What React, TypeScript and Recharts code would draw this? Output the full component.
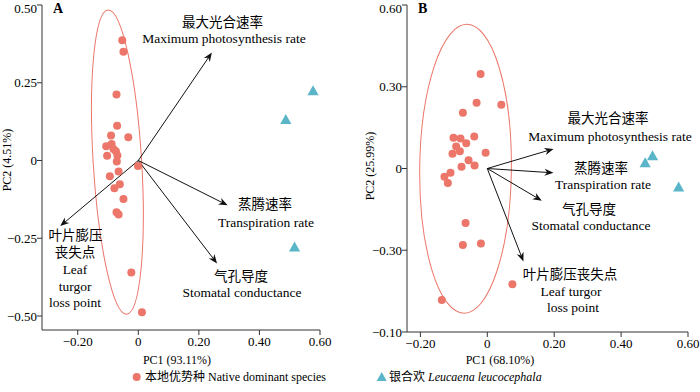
import { ScatterChart, Scatter, XAxis, YAxis, ReferenceLine, ReferenceArea } from 'recharts';

// PCA scores, panel A
const nativeA = [
  [-0.053, 0.387], [-0.049, 0.35], [-0.072, 0.212], [-0.07, 0.112], [-0.033, 0.075],
  [-0.09, 0.08], [-0.106, 0.046], [-0.088, 0.053], [-0.082, 0.037], [-0.074, 0.03],
  [-0.069, 0.016], [-0.103, 0.015], [-0.071, -0.003], [-0.001, -0.018], [-0.065, -0.035],
  [-0.094, -0.051], [-0.061, -0.076], [-0.079, -0.089], [-0.049, -0.124], [-0.072, -0.166],
  [-0.065, -0.174], [-0.023, -0.36], [0.012, -0.488],
];
const leucaenaA = [[0.487, 0.132], [0.577, 0.224], [0.516, -0.278]];
// loading arrow tips: max photosynthesis, transpiration, stomatal conductance, leaf turgor loss point
const loadingsA = [[0.243, 0.347], [0.295, -0.144], [0.26, -0.331], [-0.258, -0.211]];

// PCA scores, panel B
const nativeB = [
  [-0.02, 0.347], [-0.032, 0.241], [0.042, 0.234], [-0.073, 0.205], [-0.101, 0.113],
  [-0.08, 0.11], [-0.039, 0.117], [-0.063, 0.093], [-0.093, 0.081], [-0.082, 0.063],
  [-0.104, 0.054], [-0.005, 0.058], [-0.056, 0.03], [-0.077, 0.006], [-0.038, 0.011],
  [-0.128, -0.03], [-0.11, -0.016], [-0.118, -0.053], [-0.065, -0.2], [-0.073, -0.281],
  [-0.019, -0.275], [0.075, -0.425], [-0.136, -0.483],
];
const leucaenaB = [[0.472, 0.021], [0.494, 0.047], [0.572, -0.068]];
const loadingsB = [[0.198, 0.072], [0.198, -0.016], [0.163, -0.118], [0.108, -0.341]];

const xTicks = [-0.2, 0, 0.2, 0.4, 0.6];
const yTicksA = [-0.5, -0.25, 0, 0.25, 0.5];
const yTicksB = [-0.6, -0.3, 0, 0.3, 0.6];
const yLabelsB = ['\u22120.10', '\u22120.30', '0', '0.30', '0.60'];

const RED = '#EC7669';
const TEAL = '#5BB5C8';
const FONT = "'Liberation Serif', 'Noto Sans CJK SC', serif";

const toPts = (arr: number[][]) => arr.map(([x, y]) => ({ x, y }));

const fmt = (v: number) => (v === 0 ? '0' : (v < 0 ? '\u2212' : '') + Math.abs(v).toFixed(2));

const Dot = (p: any) => <circle cx={p.cx} cy={p.cy} r={4} fill={RED} />;
const Tri = (p: any) => (
  <polygon
    points={`${p.cx},${p.cy - 5.5} ${p.cx - 5.6},${p.cy + 4.5} ${p.cx + 5.6},${p.cy + 4.5}`}
    fill={TEAL}
  />
);

const Arrow = (p: any) => {
  const { x1, y1, x2, y2 } = p;
  const a = Math.atan2(y2 - y1, x2 - x1);
  const c = Math.cos(a), s = Math.sin(a);
  const L = 9, W = 3.6;
  const bx = x2 - L * c, by = y2 - L * s;
  const nx = x2 - 0.7 * L * c, ny = y2 - 0.7 * L * s;
  return (
    <g>
      <line x1={x1} y1={y1} x2={nx} y2={ny} stroke="#111" strokeWidth={1} />
      <polygon
        points={`${x2},${y2} ${bx - W * s},${by + W * c} ${nx},${ny} ${bx + W * s},${by - W * c}`}
        fill="#111"
      />
    </g>
  );
};

const ellipseShape = (rot: number) => (p: any) => {
  const w = Math.abs(p.width), h = Math.abs(p.height);
  const cx = Math.min(p.x, p.x + p.width) + w / 2;
  const cy = Math.min(p.y, p.y + p.height) + h / 2;
  return (
    <ellipse cx={cx} cy={cy} rx={w / 2} ry={h / 2} fill="none" stroke={RED} strokeWidth={1}
      transform={`rotate(${rot} ${cx} ${cy})`} />
  );
};

const tickStyle = { fill: '#000', fontSize: 13, fontFamily: FONT };

const App = () => {
  return (
    <div style={{ position: 'absolute', left: 0, top: 0, width: 700, height: 392, background: '#fff', fontFamily: FONT }}>
      {/* Panel A */}
      <div style={{ position: 'absolute', left: 0, top: 0 }}>
        <ScatterChart width={350} height={392} margin={{ top: 5, right: 30, bottom: 42, left: 0 }}>
          <XAxis type="number" dataKey="x" domain={[-0.318, 0.6]} ticks={xTicks} allowDataOverflow
            tickFormatter={fmt} tick={tickStyle} stroke="#333" tickSize={5} height={20} />
          <YAxis type="number" dataKey="y" domain={[-0.545, 0.5]} ticks={yTicksA} allowDataOverflow
            tickFormatter={fmt} tick={tickStyle} stroke="#333" tickSize={5} tickMargin={0} width={42} />
          <ReferenceArea x1={-0.149} x2={0.011} y1={-0.495} y2={0.485} ifOverflow="visible"
            shape={ellipseShape(-3.5)} />
          {loadingsA.map(([x, y], i) => (
            <ReferenceLine key={i} segment={[{ x: 0, y: 0 }, { x, y }]} ifOverflow="visible" shape={Arrow} />
          ))}
          <Scatter data={toPts(nativeA)} shape={Dot} isAnimationActive={false} />
          <Scatter data={toPts(leucaenaA)} shape={Tri} isAnimationActive={false} />
        </ScatterChart>
      </div>

      {/* Panel B */}
      <div style={{ position: 'absolute', left: 350, top: 0 }}>
        <ScatterChart width={350} height={392} margin={{ top: 5, right: 12, bottom: 40, left: 0 }}>
          <XAxis type="number" dataKey="x" domain={[-0.24, 0.6]} ticks={xTicks} allowDataOverflow
            tickFormatter={fmt} tick={tickStyle} stroke="#333" tickSize={5} height={20} />
          <YAxis type="number" dataKey="y" domain={[-0.6, 0.6]} ticks={yTicksB} allowDataOverflow
            tickFormatter={(v: number) => yLabelsB[yTicksB.indexOf(v)] ?? fmt(v)}
            tick={tickStyle} stroke="#333" tickSize={5} tickMargin={0} width={57} />
          <ReferenceArea x1={-0.202} x2={0.072} y1={-0.531} y2={0.529} ifOverflow="visible"
            shape={ellipseShape(0.6)} />
          {loadingsB.map(([x, y], i) => (
            <ReferenceLine key={i} segment={[{ x: 0, y: 0 }, { x, y }]} ifOverflow="visible" shape={Arrow} />
          ))}
          <Scatter data={toPts(nativeB)} shape={Dot} isAnimationActive={false} />
          <Scatter data={toPts(leucaenaB)} shape={Tri} isAnimationActive={false} />
        </ScatterChart>
      </div>

      {/* labels, axis titles, legend */}
      <svg width={700} height={392} style={{ position: 'absolute', left: 0, top: 0, pointerEvents: 'none' }}
        fontFamily={FONT} fill="#000">
        <text x={53} y={13} fontSize={14} fontWeight="bold">A</text>
        <text x={418} y={13} fontSize={14} fontWeight="bold">B</text>

        <g fontSize={13.5} textAnchor="middle" dominantBaseline="central">
          <text x={222.5} y={22}>最大光合速率</text>
          <text x={224} y={38}>Maximum photosynthesis rate</text>
          <text x={265} y={204}>蒸腾速率</text>
          <text x={266} y={222}>Transpiration rate</text>
          <text x={241} y={276}>气孔导度</text>
          <text x={242} y={292}>Stomatal conductance</text>
          <text x={75.5} y={235}>叶片膨压</text>
          <text x={75} y={252}>丧失点</text>
          <text x={75} y={269}>Leaf</text>
          <text x={75} y={286}>turgor</text>
          <text x={75} y={302}>loss point</text>

          <text x={608} y={118}>最大光合速率</text>
          <text x={610} y={136}>Maximum photosynthesis rate</text>
          <text x={601} y={168}>蒸腾速率</text>
          <text x={603} y={184}>Transpiration rate</text>
          <text x={589} y={209}>气孔导度</text>
          <text x={591} y={225}>Stomatal conductance</text>
          <text x={570} y={274}>叶片膨压丧失点</text>
          <text x={571} y={291}>Leaf turgor</text>
          <text x={573} y={307}>loss point</text>
        </g>

        <g fontSize={12} textAnchor="middle" dominantBaseline="central">
          <text x={177} y={360}>PC1 (93.11%)</text>
          <text x={500} y={360}>PC1 (68.10%)</text>
          <text x={7} y={160} transform="rotate(-90 7 160)">PC2 (4.51%)</text>
          <text x={370} y={166} transform="rotate(-90 370 166)">PC2 (25.99%)</text>
        </g>

        <circle cx={136.7} cy={377} r={4} fill={RED} />
        <text x={145} y={377} fontSize={12} dominantBaseline="central">本地优势种 Native dominant species</text>
        <polygon points="381.7,372 376.7,381 386.7,381" fill={TEAL} />
        <text x={389} y={377} fontSize={12} dominantBaseline="central">
          银合欢 <tspan fontStyle="italic">Leucaena leucocephala</tspan>
        </text>
      </svg>
    </div>
  );
};

export default App;
